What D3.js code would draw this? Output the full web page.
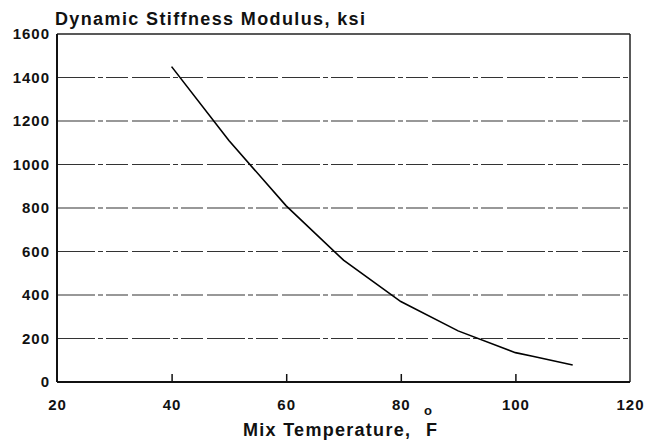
<!DOCTYPE html>
<html>
<head>
<meta charset="utf-8">
<script src="https://cdn.jsdelivr.net/npm/d3@7"></script>
<style>
  body { margin: 0; background: #fff; }
  text { font-family: "Liberation Sans", Arial, sans-serif; font-weight: bold; fill: #111; }
</style>
</head>
<body>
<div id="chart"></div>
<script>
// Data
const temps = [40, 50, 60, 70, 80, 90, 100, 103, 110];
const stiffness = [1450, 1110, 810, 560, 370, 235, 135, 118, 78];
const xTicks = [20, 40, 60, 80, 100, 120];
const yTicks = [0, 200, 400, 600, 800, 1000, 1200, 1400, 1600];

const data = temps.map((t, i) => ({ t: t, s: stiffness[i] }));

const W = 646, H = 442;
const margin = { top: 34, right: 16, bottom: 60, left: 57 },
      width = W - margin.left - margin.right,
      height = H - margin.top - margin.bottom;

const svg = d3.select("#chart")
    .append("svg")
    .attr("width", W)
    .attr("height", H);

const g = svg.append("g")
    .attr("transform", `translate(${margin.left},${margin.top})`);

const x = d3.scaleLinear().domain([20, 120]).range([0, width]);
const y = d3.scaleLinear().domain([0, 1600]).range([height, 0]);

// Grid lines (dash-dot look of the original)
g.selectAll(".grid")
    .data(yTicks.filter(v => v > 0 && v < 1600))
    .enter().append("line")
    .attr("x1", 0).attr("x2", width)
    .attr("y1", d => y(d)).attr("y2", d => y(d))
    .attr("stroke", "#333")
    .attr("stroke-width", 1.2)
    .attr("stroke-dasharray", "38,3,5,3,22,4");

// X axis: ticks pointing inward, labels below
const xAxis = g.append("g")
    .attr("transform", `translate(0,${height})`)
    .call(d3.axisBottom(x).tickValues(xTicks).tickFormat(d3.format("d"))
        .tickSizeInner(-8).tickSizeOuter(0).tickPadding(17));
xAxis.select(".domain").remove();
xAxis.selectAll("line").attr("stroke", "#111").attr("stroke-width", 1.5)
    .filter(d => d === 20 || d === 120).remove();
xAxis.selectAll("text")
    .attr("font-size", 15).attr("letter-spacing", 1)
    .attr("font-family", "Liberation Sans, Arial, sans-serif")
    .attr("font-weight", "bold").attr("fill", "#111");

// Y axis: labels only
const yAxis = g.append("g")
    .call(d3.axisLeft(y).tickValues(yTicks).tickFormat(d3.format("d"))
        .tickSize(0).tickPadding(7));
yAxis.select(".domain").remove();
yAxis.selectAll("text")
    .attr("font-size", 15).attr("letter-spacing", 1)
    .attr("font-family", "Liberation Sans, Arial, sans-serif")
    .attr("font-weight", "bold").attr("fill", "#111");

// Plot frame
g.append("line").attr("x1", 0).attr("x2", width).attr("y1", 0).attr("y2", 0)
    .attr("stroke", "#222").attr("stroke-width", 1.5);
g.append("line").attr("x1", width).attr("x2", width).attr("y1", 0).attr("y2", height)
    .attr("stroke", "#222").attr("stroke-width", 1.5);
g.append("line").attr("x1", 0).attr("x2", 0).attr("y1", 0).attr("y2", height)
    .attr("stroke", "#111").attr("stroke-width", 2);
g.append("line").attr("x1", 0).attr("x2", width).attr("y1", height).attr("y2", height)
    .attr("stroke", "#111").attr("stroke-width", 2);

// The curve
g.append("path")
    .datum(data)
    .attr("fill", "none")
    .attr("stroke", "#000")
    .attr("stroke-width", 1.6)
    .attr("d", d3.line()
        .x(d => x(d.t))
        .y(d => y(d.s)));

// Title
svg.append("text")
    .attr("x", 55)
    .attr("y", 25)
    .attr("font-size", 18)
    .attr("textLength", 310)
    .attr("lengthAdjust", "spacing")
    .text("Dynamic Stiffness Modulus, ksi");

// X axis label with degree-style superscript
svg.append("text")
    .attr("x", 243)
    .attr("y", 436)
    .attr("font-size", 18)
    .attr("textLength", 167)
    .attr("lengthAdjust", "spacing")
    .text("Mix Temperature,");
svg.append("text")
    .attr("x", 428)
    .attr("y", 415)
    .attr("font-size", 13)
    .attr("text-anchor", "middle")
    .text("o");
svg.append("text")
    .attr("x", 426)
    .attr("y", 436)
    .attr("font-size", 18)
    .text("F");
</script>
</body>
</html>
